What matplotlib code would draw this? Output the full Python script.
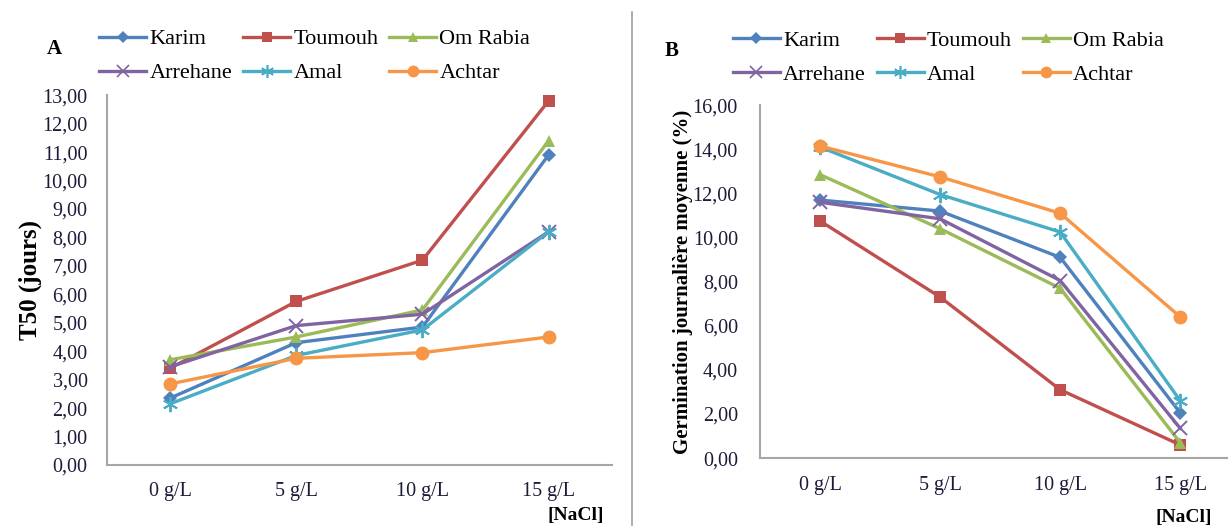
"""T50 and mean daily germination of six varieties under NaCl stress."""

import matplotlib

matplotlib.use("Agg")
import matplotlib.pyplot as plt
from matplotlib.lines import Line2D

plt.rcParams["font.family"] = ["Liberation Serif", "DejaVu Serif"]

concentrations = ["0 g/L", "5 g/L", "10 g/L", "15 g/L"]
varieties = ["Karim", "Toumouh", "Om Rabia", "Arrehane", "Amal", "Achtar"]

# panel A: T50 (days)
t50_karim = [2.35, 4.3, 4.85, 10.9]
t50_toumouh = [3.4, 5.75, 7.2, 12.8]
t50_om_rabia = [3.7, 4.5, 5.45, 11.4]
t50_arrehane = [3.45, 4.9, 5.3, 8.2]
t50_amal = [2.15, 3.85, 4.75, 8.2]
t50_achtar = [2.85, 3.75, 3.95, 4.5]

# panel B: mean daily germination (%)
mdg_karim = [11.7, 11.2, 9.1, 2.05]
mdg_toumouh = [10.75, 7.3, 3.1, 0.6]
mdg_om_rabia = [12.85, 10.4, 7.7, 0.7]
mdg_arrehane = [11.6, 10.85, 8.05, 1.35]
mdg_amal = [14.1, 11.95, 10.25, 2.6]
mdg_achtar = [14.15, 12.75, 11.1, 6.4]

colors = ["#4F81BD", "#C0504D", "#9BBB59", "#8064A2", "#4BACC6", "#F79646"]
markers = ["D", "s", "^", "x", (6, 2, 0), "o"]
marker_sizes = [7, 9, 9, 10, 11, 10]

TEXT = "#1c1c3a"
SPINE = "#a6a6a6"


def style_axes(ax, ylim, step, ytick_pad, xtick_pad):
    ax.set_ylim(*ylim)
    ax.set_xlim(-0.5, len(concentrations) - 0.5)
    ax.set_xticks(range(len(concentrations)))
    ax.set_xticklabels(concentrations)
    yt = [i * step for i in range(int(ylim[1] / step) + 1)]
    ax.set_yticks(yt)
    ax.set_yticklabels([f"{v:.2f}".replace(".", ",") for v in yt])
    ax.tick_params(axis="both", length=0, labelsize=14.5, colors=TEXT)
    ax.tick_params(axis="y", pad=ytick_pad)
    ax.tick_params(axis="x", pad=xtick_pad)
    for side in ("top", "right"):
        ax.spines[side].set_visible(False)
    for side in ("left", "bottom"):
        ax.spines[side].set_color(SPINE)
        ax.spines[side].set_linewidth(1.5)


def draw_series(ax, series):
    for vals, c, m, ms in zip(series, colors, markers, marker_sizes):
        ax.plot(range(len(vals)), vals, color=c, lw=2.4, marker=m,
                markersize=ms, markeredgewidth=1.4 if m in ("x", (6, 2, 0)) else 0,
                markeredgecolor=c, clip_on=False, zorder=3)


def add_legend(ax, x, y):
    handles = [Line2D([], [], color=c, lw=2.4, marker=m,
                      markersize=ms * 0.85, markeredgecolor=c,
                      markeredgewidth=1.2 if m in ("x", (6, 2, 0)) else 0)
               for c, m, ms in zip(colors, markers, marker_sizes)]
    # legend fills column by column; reorder so entries read row by row
    order = [0, 3, 1, 4, 2, 5]
    ax.legend([handles[i] for i in order], [varieties[i] for i in order],
              ncol=3, loc="upper left",
              bbox_to_anchor=(x, y), bbox_transform=ax.figure.transFigure,
              frameon=False, prop={"family": "Liberation Serif", "size": 16},
              handlelength=2.1, handletextpad=0.15, columnspacing=0.5,
              labelspacing=0.6, borderpad=0, borderaxespad=0)


fig = plt.figure(figsize=(12.28, 5.26), dpi=100)

ax_a = fig.add_axes([0.0871, 0.116, 0.411, 0.703])
draw_series(ax_a, [t50_karim, t50_toumouh, t50_om_rabia,
                   t50_arrehane, t50_amal, t50_achtar])
style_axes(ax_a, (0, 13), 1, ytick_pad=14, xtick_pad=12)
ax_a.set_ylabel("T50 (jours)", fontsize=18, fontweight="bold", labelpad=0)
add_legend(ax_a, 0.081, 0.945)

ax_b = fig.add_axes([0.619, 0.129, 0.391, 0.671])
draw_series(ax_b, [mdg_karim, mdg_toumouh, mdg_om_rabia,
                   mdg_arrehane, mdg_amal, mdg_achtar])
style_axes(ax_b, (0, 16), 2, ytick_pad=16, xtick_pad=13)
ax_b.set_ylabel("Germination journalière moyenne (%)", fontsize=15,
                fontweight="bold", labelpad=-0.5)
add_legend(ax_b, 0.597, 0.942)

fig.text(0.038, 0.898, "A", fontsize=15, fontweight="bold")
fig.text(0.541, 0.893, "B", fontsize=15, fontweight="bold")
fig.text(0.446, 0.012, "[NaCl]", fontsize=14, fontweight="bold")
fig.text(0.941, 0.008, "[NaCl]", fontsize=14, fontweight="bold")

# divider between the two panels
fig.add_artist(Line2D([0.5147, 0.5147], [0, 0.977], color="#a0a0a0",
                      lw=1.2, transform=fig.transFigure))

fig.savefig("out.png", dpi=100)
